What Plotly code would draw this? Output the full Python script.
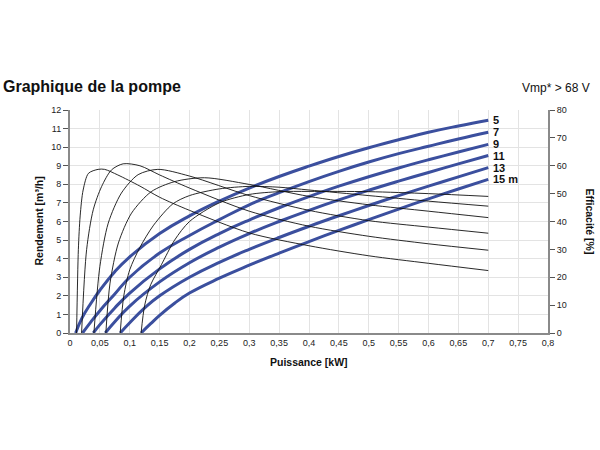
import plotly.graph_objects as go

# heads (m) and their labels
heads = [5, 7, 9, 11, 13, 15]
head_labels = ["5", "7", "9", "11", "13", "15 m"]

# flow curves: power [kW] -> flow [m3/h]
flow_x = [
    [0.0094, 0.02, 0.035, 0.05, 0.075, 0.1, 0.15, 0.2, 0.25, 0.3, 0.35, 0.4, 0.45, 0.5, 0.55, 0.6, 0.65, 0.7],
    [0.021, 0.035, 0.05, 0.075, 0.1, 0.15, 0.2, 0.25, 0.3, 0.35, 0.4, 0.45, 0.5, 0.55, 0.6, 0.65, 0.7],
    [0.039, 0.05, 0.075, 0.1, 0.15, 0.2, 0.25, 0.3, 0.35, 0.4, 0.45, 0.5, 0.55, 0.6, 0.65, 0.7],
    [0.059, 0.075, 0.1, 0.15, 0.2, 0.25, 0.3, 0.35, 0.4, 0.45, 0.5, 0.55, 0.6, 0.65, 0.7],
    [0.084, 0.1, 0.125, 0.15, 0.2, 0.25, 0.3, 0.35, 0.4, 0.45, 0.5, 0.55, 0.6, 0.65, 0.7],
    [0.119, 0.135, 0.15, 0.175, 0.2, 0.25, 0.3, 0.35, 0.4, 0.45, 0.5, 0.55, 0.6, 0.65, 0.7],
]
flow_y = [
    [0, 0.8, 1.6, 2.3, 3.3, 4.1, 5.35, 6.3, 7.1, 7.8, 8.42, 8.98, 9.5, 9.97, 10.4, 10.8, 11.14, 11.45],
    [0, 0.6, 1.2, 2.1, 3.0, 4.3, 5.25, 6.1, 6.9, 7.55, 8.15, 8.7, 9.2, 9.65, 10.05, 10.44, 10.8],
    [0, 0.45, 1.35, 2.15, 3.45, 4.5, 5.35, 6.08, 6.74, 7.34, 7.9, 8.41, 8.88, 9.32, 9.74, 10.15],
    [0, 0.6, 1.45, 2.75, 3.78, 4.62, 5.35, 6.0, 6.6, 7.16, 7.68, 8.17, 8.64, 9.1, 9.55],
    [0, 0.55, 1.35, 2.0, 3.0, 3.8, 4.5, 5.14, 5.74, 6.31, 6.86, 7.39, 7.9, 8.4, 8.9],
    [0, 0.5, 0.95, 1.6, 2.15, 2.95, 3.65, 4.3, 4.92, 5.52, 6.1, 6.67, 7.22, 7.75, 8.27],
]

# efficiency curves: power [kW] -> efficiency [%]
eff_x = [
    [0.011, 0.014, 0.017, 0.022, 0.031, 0.047, 0.058, 0.08, 0.117, 0.15, 0.2, 0.3, 0.4, 0.5, 0.6, 0.7],
    [0.0194, 0.0278, 0.0389, 0.0528, 0.0694, 0.089, 0.117, 0.15, 0.2, 0.3, 0.4, 0.5, 0.6, 0.7],
    [0.04, 0.05, 0.064, 0.086, 0.114, 0.147, 0.2, 0.3, 0.4, 0.5, 0.6, 0.7],
    [0.06, 0.067, 0.081, 0.103, 0.136, 0.175, 0.225, 0.3, 0.4, 0.5, 0.6, 0.7],
    [0.084, 0.09, 0.1, 0.117, 0.14, 0.172, 0.2, 0.25, 0.3, 0.35, 0.4, 0.5, 0.6, 0.7],
    [0.119, 0.125, 0.135, 0.153, 0.175, 0.2, 0.25, 0.3, 0.35, 0.4, 0.5, 0.6, 0.7],
]
eff_y = [
    [0, 30, 42, 51.3, 57.3, 58.7, 58.7, 56.7, 52.7, 48.7, 44, 35.9, 31.3, 27.7, 25, 22.4],
    [0, 29.9, 44.2, 52.5, 58.5, 60.7, 60, 56.7, 52, 43.7, 38.3, 34.7, 32, 29.7],
    [0, 23.9, 39.4, 50.2, 56.8, 58.7, 56.3, 49.3, 44, 40.3, 38, 35.8],
    [0, 17.9, 32.3, 43, 50.7, 54.3, 55.7, 53.3, 49, 46, 43.7, 41.4],
    [0, 13.3, 22.7, 30.7, 38.7, 46.3, 49.3, 51.7, 52.6, 52.3, 51.3, 49.3, 47.3, 45.5],
    [0, 10, 17.3, 24.5, 33.3, 40, 46.7, 49.7, 50.7, 50.8, 50.7, 50, 49],
]

FONT = "Liberation Sans, Arial, sans-serif"
BLUE = "#3b4f9e"

fig = go.Figure()

for i in range(len(heads)):
    fig.add_trace(go.Scatter(x=eff_x[i], y=eff_y[i], yaxis="y2", mode="lines",
                             line=dict(color="#111111", width=0.9, shape="spline", smoothing=0.8),
                             hoverinfo="skip", showlegend=False))

for i in range(len(heads)):
    fig.add_trace(go.Scatter(x=flow_x[i], y=flow_y[i], mode="lines",
                             line=dict(color=BLUE, width=3, shape="spline", smoothing=1.3),
                             name=head_labels[i], showlegend=False))
    fig.add_annotation(x=flow_x[i][-1], y=flow_y[i][-1], text="<b>" + head_labels[i] + "</b>",
                       showarrow=False, xanchor="left", yanchor="middle", xshift=3,
                       font=dict(size=11, color="#111111", family=FONT))

fig.update_layout(
    width=600, height=450,
    margin=dict(l=70, r=52, t=110, b=117),
    paper_bgcolor="white", plot_bgcolor="white",
    separators=", ",
    font=dict(family=FONT, size=9, color="#222222"),
    title=dict(text="<b>Graphique de la pompe</b>", x=0.005, xanchor="left",
               y=1 - 86 / 450, yanchor="middle", font=dict(size=16, color="#111111")),
    xaxis=dict(range=[0, 0.8], dtick=0.05, tick0=0, showgrid=True, gridcolor="#e3e3e3",
               showline=True, linecolor="#8a8a8a", linewidth=2, ticks="",
               zeroline=False, fixedrange=True),
    yaxis=dict(range=[0, 12], dtick=1, showgrid=True, gridcolor="#e3e3e3",
               showline=True, linecolor="#8a8a8a", linewidth=2, ticks="outside",
               ticklen=5, tickcolor="#555555", zeroline=False),
    yaxis2=dict(range=[0, 80], dtick=10, overlaying="y", side="right", showgrid=False,
                showline=True, linecolor="#8a8a8a", linewidth=2, ticks="outside",
                ticklen=5, tickcolor="#555555", zeroline=False),
)

fig.add_annotation(text="Vmp* > 68 V", xref="paper", yref="paper", x=(592 - 70) / 478,
                   y=(333 - 88) / 223, xanchor="right", yanchor="middle", showarrow=False,
                   font=dict(size=12, color="#111111", family=FONT))
fig.add_annotation(text="<b>Puissance [kW]</b>", xref="paper", yref="paper", x=0.5,
                   y=-(362 - 333) / 223, xanchor="center", yanchor="middle", showarrow=False,
                   font=dict(size=10.5, color="#111111", family=FONT))
fig.add_annotation(text="<b>Rendement [m³/h]</b>", xref="paper", yref="paper",
                   x=-(70 - 38) / 478, y=0.5, textangle=-90, xanchor="center", yanchor="middle",
                   showarrow=False, font=dict(size=10.5, color="#111111", family=FONT))
fig.add_annotation(text="<b>Efficacité [%]</b>", xref="paper", yref="paper",
                   x=(590 - 70) / 478, y=0.5, textangle=90, xanchor="center", yanchor="middle",
                   showarrow=False, font=dict(size=10.5, color="#111111", family=FONT))

fig.write_html("out.html", config={"displayModeBar": False},
               post_script="document.body.style.margin='0px';")
